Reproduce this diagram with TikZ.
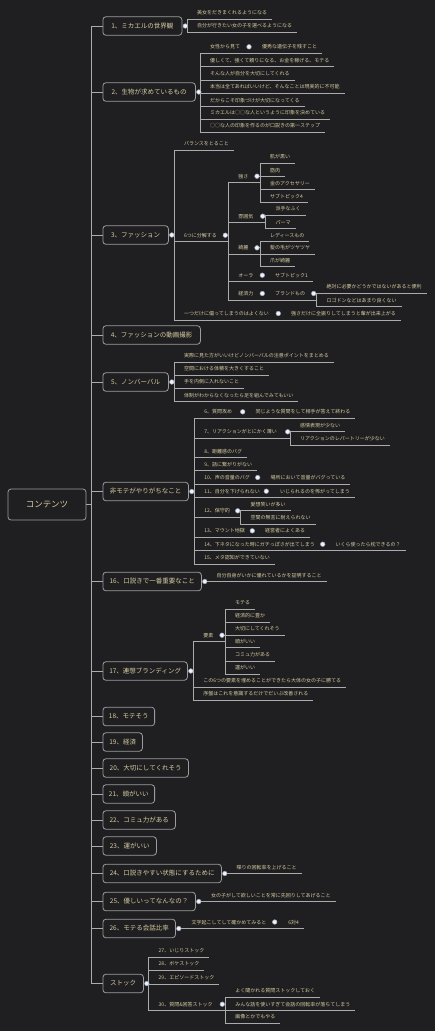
\documentclass[tikz,border=0pt]{standalone}
\usepackage{fontspec}
\setmainfont{Noto Sans CJK JP}
\usepackage{xcolor}
\usetikzlibrary{positioning, backgrounds}

\definecolor{canvas}{HTML}{1F1F22}
\definecolor{txt}{HTML}{D8CDA0}
\definecolor{wire}{HTML}{ABABAB}
\definecolor{boxline}{HTML}{9C9C9C}
\definecolor{knobfill}{HTML}{EEF2FA}
\definecolor{knobline}{HTML}{9AA3B5}

\begin{document}
\begin{tikzpicture}[x=1pt, y=-1pt,
    topic/.style={draw=boxline, line width=0.8pt, rounded corners=3pt, anchor=west, minimum height=18.5pt, inner xsep=6pt, font=\fontsize{6.5}{7}\selectfont, text=txt},
    rootbox/.style={topic, anchor=center, minimum width=78pt, minimum height=31pt, font=\fontsize{8.5}{9}\selectfont},
    leaf/.style={anchor=south west, font=\fontsize{5}{6}\selectfont, text=txt, inner xsep=2.5pt, outer xsep=2.5pt, inner ysep=1pt, outer ysep=3pt},
    knob/.style={circle, fill=knobfill, draw=knobline, line width=0.5pt, minimum size=4.6pt, inner sep=0pt, outer sep=0.7pt},
    branch/.style={draw=wire, line width=0.8pt}]

    % Canvas
    \useasboundingbox (0,0) rectangle (435,1031);
    \begin{scope}[on background layer]
        \fill[canvas] (0,0) rectangle (435,1031);
    \end{scope}

    % Root and trunk
    \node[rootbox] (root) at (47,504.5) {コンテンツ};
    \coordinate (trunk) at (91,504.5);

    % Main topics
    \node[topic, minimum width=79pt] (t1) at (102.5,26) {1、ミカエルの世界観};
    \node[topic, minimum width=92.5pt] (t2) at (102.5,92) {2、生物が求めているもの};
    \node[topic, minimum width=65.5pt] (t3) at (102.5,235) {3、ファッション};
    \node[topic, minimum width=97.5pt] (t4) at (102.5,335) {4、ファッションの動画撮影};
    \node[topic, minimum width=65.5pt] (t5) at (102.5,382) {5、ノンバーバル};
    \node[topic, minimum width=85.5pt] (tng) at (102.5,491.5) {非モテがやりがちなこと};
    \node[topic, minimum width=98.5pt] (t16) at (102.5,581.5) {16、口説きで一番重要なこと};
    \node[topic, minimum width=84.5pt] (t17) at (102.5,671) {17、連想ブランディング};
    \node[topic, minimum width=51.5pt] (t18) at (102.5,716.5) {18、モテそう};
    \node[topic, minimum width=39.5pt] (t19) at (102.5,742) {19、経済};
    \node[topic, minimum width=85.5pt] (t20) at (102.5,768) {20、大切にしてくれそう};
    \node[topic, minimum width=51.5pt] (t21) at (102.5,794) {21、頭がいい};
    \node[topic, minimum width=72.5pt] (t22) at (102.5,820) {22、コミュ力がある};
    \node[topic, minimum width=53.5pt] (t23) at (102.5,846) {23、運がいい};
    \node[topic, minimum width=118.5pt] (t24) at (102.5,873.5) {24、口説きやすい状態にするために};
    \node[topic, minimum width=92.5pt] (t25) at (102.5,901.5) {25、優しいってなんなの？};
    \node[topic, minimum width=72.5pt] (t26) at (102.5,928.5) {26、モテる会話比率};
    \node[topic, minimum width=40.5pt] (tst) at (102.5,983.5) {ストック};

    % Knobs on main topics
    \foreach \t in {t1,t2,t3,t5,tng,t16,t17,t24,t25,t26,tst}
        \node[knob, right=0pt of \t] (d\t) {};

    % 1
    \node[leaf] (n1a) at (192,19) {美女をだきまくれるようになる};
    \node[leaf] (n1b) at (192,32) {自分が行きたい女の子を選べるようになる};

    % 2
    \node[leaf] (n2a) at (205,53.3) {女性から見て};
    \node[knob] (d2a) at (249,46.8) {};
    \node[leaf] (n2a1) at (257,53.3) {優秀な遺伝子を残すこと};
    \node[leaf] (n2b) at (205,66.7) {優しくて、強くて頼りになる、お金を稼げる、モテる};
    \node[leaf] (n2c) at (205,80) {そんな人が自分を大切にしてくれる};
    \node[leaf] (n2d) at (205,93.3) {本当は全てあればいいけど、そんなことは現実的に不可能};
    \node[leaf] (n2e) at (205,106.7) {だからこそ印象づけが大切になってくる};
    \node[leaf] (n2f) at (205,119.3) {ミカエルは○○な人というように印象を決めている};
    \node[leaf] (n2g) at (205,132.3) {○○な人の印象を作るのが口説きの第一ステップ};

    % 3
    \node[leaf] (n3a) at (179,150) {バランスをとること};
    \node[leaf] (n3b) at (179,241.7) {6つに分解する};
    \node[knob] (d3b) at (225.3,235.2) {};
    \node[leaf] (n3b1) at (233.3,182.7) {強さ};
    \node[knob] (d3b1) at (257,176.2) {};
    \node[leaf] (n3b1a) at (265,163.3) {肌が黒い};
    \node[leaf] (n3b1b) at (265,176.7) {筋肉};
    \node[leaf] (n3b1c) at (265,189.3) {金のアクセサリー};
    \node[leaf] (n3b1d) at (265,202.7) {サブトピック4};
    \node[leaf] (n3b2) at (233.3,222.7) {雰囲気};
    \node[knob] (d3b2) at (262.7,216.2) {};
    \node[leaf] (n3b2a) at (270.7,215.3) {派手なふく};
    \node[leaf] (n3b2b) at (270.7,228.3) {パーマ};
    \node[leaf] (n3b3) at (233.3,254.3) {綺麗};
    \node[knob] (d3b3) at (257,247.8) {};
    \node[leaf] (n3b3a) at (265,241.7) {レディースもの};
    \node[leaf] (n3b3b) at (265,254.3) {髪の毛がツヤツヤ};
    \node[leaf] (n3b3c) at (265,266.7) {爪が綺麗};
    \node[leaf] (n3b4) at (233.3,281.7) {オーラ};
    \node[knob] (d3b4) at (262.3,275.2) {};
    \node[leaf] (n3b4a) at (270,281.7) {サブトピック1};
    \node[leaf] (n3b5) at (233.3,300) {経済力};
    \node[knob] (d3b5) at (262.3,293.5) {};
    \node[leaf] (n3b5a) at (270,300) {ブランドもの};
    \node[knob] (d3b5a) at (313.7,293.5) {};
    \node[leaf] (n3b5a1) at (321.7,293.3) {絶対に必要かどうかではないがあると便利};
    \node[leaf] (n3b5a2) at (321.7,306.7) {ロゴドンなどはあまり良くない};
    \node[leaf] (n3c) at (179,320) {一つだけに偏ってしまうのはよくない};
    \node[knob] (d3c) at (278.3,313.5) {};
    \node[leaf] (n3c1) at (286,320) {強さだけに全振りしてしまうと輩が出来上がる};

    % 5
    \node[leaf] (n5a) at (179,362.3) {実際に見た方がいいけどノンバーバルの注意ポイントをまとめる};
    \node[leaf] (n5b) at (179,375.3) {空間における体積を大きくすること};
    \node[leaf] (n5c) at (179,388.3) {手を内側に入れないこと};
    \node[leaf] (n5d) at (179,401.7) {体制がわからなくなったら足を組んでみてもいい};

    % Non-mote habits
    \node[leaf] (g6) at (199.3,418.3) {6、質問攻め};
    \node[knob] (d6) at (242.7,411.8) {};
    \node[leaf] (g6a) at (250.7,418.3) {同じような質問をして相手が答えて終わる};
    \node[leaf] (g7) at (199.3,438.3) {7、リアクションがとにかく薄い};
    \node[knob] (d7) at (287.7,431.8) {};
    \node[leaf] (g7a) at (295,431.8) {感情表現が少ない};
    \node[leaf] (g7b) at (295,445) {リアクションのレパートリーが少ない};
    \node[leaf] (g8) at (199.3,457.7) {8、距離感のバグ};
    \node[leaf] (g9) at (199.3,470.7) {9、話に繋がりがない};
    \node[leaf] (g10) at (199.3,484) {10、声の音量のバグ};
    \node[knob] (d10) at (257.7,477.5) {};
    \node[leaf] (g10a) at (265.7,484) {場所において音量がバグっている};
    \node[leaf] (g11) at (199.3,497.7) {11、自分を下げられない};
    \node[knob] (d11) at (266.3,491.2) {};
    \node[leaf] (g11a) at (275,497.7) {いじられるのを怖がってしまう};
    \node[leaf] (g12) at (199.3,517.3) {12、保守的};
    \node[knob] (d12) at (237.7,510.8) {};
    \node[leaf] (g12a) at (245.7,510.8) {愛想笑いが多い};
    \node[leaf] (g12b) at (245.7,524) {空間の無言に耐えられない};
    \node[leaf] (g13) at (199.3,537.3) {13、マウント地獄};
    \node[knob] (d13) at (252.3,530.8) {};
    \node[leaf] (g13a) at (260,537.3) {経営者によくある};
    \node[leaf] (g14) at (199.3,550.7) {14、下ネタになった時にガチっぽさが出てしまう};
    \node[knob] (d14) at (322.7,544.2) {};
    \node[leaf] (g14a) at (330.7,550.7) {いくら使ったら枕できるの？};
    \node[leaf] (g15) at (199.3,564) {15、メタ認知ができていない};

    % 16
    \node[leaf] (n16a) at (211.7,581.5) {自分自身がいかに優れているかを証明すること};

    % 17
    \node[leaf] (n17a) at (198.3,641.7) {要素};
    \node[knob] (d17a) at (222,635.2) {};
    \node[leaf] (n17a1) at (230,609) {モテる};
    \node[leaf] (n17a2) at (230,622) {経済的に豊か};
    \node[leaf] (n17a3) at (230,635) {大切にしてくれそう};
    \node[leaf] (n17a4) at (230,647.7) {頭がいい};
    \node[leaf] (n17a5) at (230,661) {コミュ力がある};
    \node[leaf] (n17a6) at (230,674) {運がいい};
    \node[leaf] (n17b) at (198.3,687.3) {この6つの要素を埋めることができたら大体の女の子に勝てる};
    \node[leaf] (n17c) at (198.3,700) {序盤はこれを意識するだけでだいぶ改善される};

    % 24 - 26
    \node[leaf] (n24a) at (231.7,873.5) {喋りの回転率を上げること};
    \node[leaf] (n25a) at (206,901.5) {女の子がして欲しいことを常に先回りしてあげること};
    \node[leaf] (n26a) at (186.7,928.5) {文字起こしてして確かめてみると};
    \node[knob] (d26a) at (274.7,922) {};
    \node[leaf] (n26a1) at (283.3,928.5) {6対4};

    % Stock
    \node[leaf] (s27) at (153.7,957.3) {27、いじりストック};
    \node[leaf] (s28) at (153.7,970.3) {28、ボケストック};
    \node[leaf] (s29) at (153.7,984) {29、エピソードストック};
    \node[leaf] (s30) at (153.7,1010.7) {30、質問\&回答ストック};
    \node[knob] (d30) at (222.3,1004.2) {};
    \node[leaf] (s30a) at (230.3,997.3) {よく聞かれる質問ストックしておく};
    \node[leaf] (s30b) at (230.3,1010.7) {みんな話を使いすぎて会話の回転率が落ちてしまう};
    \node[leaf] (s30c) at (230.3,1023.3) {画像とかでもやる};

    % Connectors
    \begin{scope}[on background layer]
        \draw[branch] (root.east) -- (trunk);
        \foreach \t in {t1,t2,t3,t4,t5,tng,t16,t17,t18,t19,t20,t21,t22,t23,t24,t25,t26,tst}
            \draw[branch] (trunk) |- (\t.west);

        % brackets: knob -> child underline
        \foreach \d/\c in {dt1/n1a, dt1/n1b,
                dt2/n2a, dt2/n2b, dt2/n2c, dt2/n2d, dt2/n2e, dt2/n2f, dt2/n2g,
                dt3/n3a, dt3/n3b, dt3/n3c,
                d3b/n3b1, d3b/n3b2, d3b/n3b3, d3b/n3b4, d3b/n3b5,
                d3b1/n3b1a, d3b1/n3b1b, d3b1/n3b1c, d3b1/n3b1d,
                d3b2/n3b2a, d3b2/n3b2b,
                d3b3/n3b3a, d3b3/n3b3b, d3b3/n3b3c,
                d3b5a/n3b5a1, d3b5a/n3b5a2,
                dt5/n5a, dt5/n5b, dt5/n5c, dt5/n5d,
                dtng/g6, dtng/g7, dtng/g8, dtng/g9, dtng/g10, dtng/g11, dtng/g12, dtng/g13, dtng/g14, dtng/g15,
                d7/g7a, d7/g7b, d12/g12a, d12/g12b,
                dt17/n17a, dt17/n17b, dt17/n17c,
                d17a/n17a1, d17a/n17a2, d17a/n17a3, d17a/n17a4, d17a/n17a5, d17a/n17a6,
                dtst/s27, dtst/s28, dtst/s29, dtst/s30,
                d30/s30a, d30/s30b, d30/s30c}
            \draw[branch] (\d.center) -| ([xshift=-5pt]\c.south west) -- (\c.south east);

        % underlines running on to a sub-bracket
        \foreach \c/\d in {n3b/d3b, n3b1/d3b1, n3b2/d3b2, n3b3/d3b3, n3b5a/d3b5a, g7/d7, g12/d12, n17a/d17a, s30/d30}
            \draw[branch] (\c.south east) -- (\c.south -| \d.east);

        % single children on the same line
        \foreach \p/\c in {n2a/n2a1, n3b4/n3b4a, n3b5/n3b5a, n3c/n3c1, g6/g6a, g10/g10a, g11/g11a, g13/g13a, g14/g14a, n26a/n26a1}
            \draw[branch] (\p.south east) -- (\c.south east);
        \foreach \d/\c in {dt16/n16a, dt24/n24a, dt25/n25a, dt26/n26a}
            \draw[branch] (\d.center) -- (\d.center -| \c.south east);
    \end{scope}

\end{tikzpicture}
\end{document}
